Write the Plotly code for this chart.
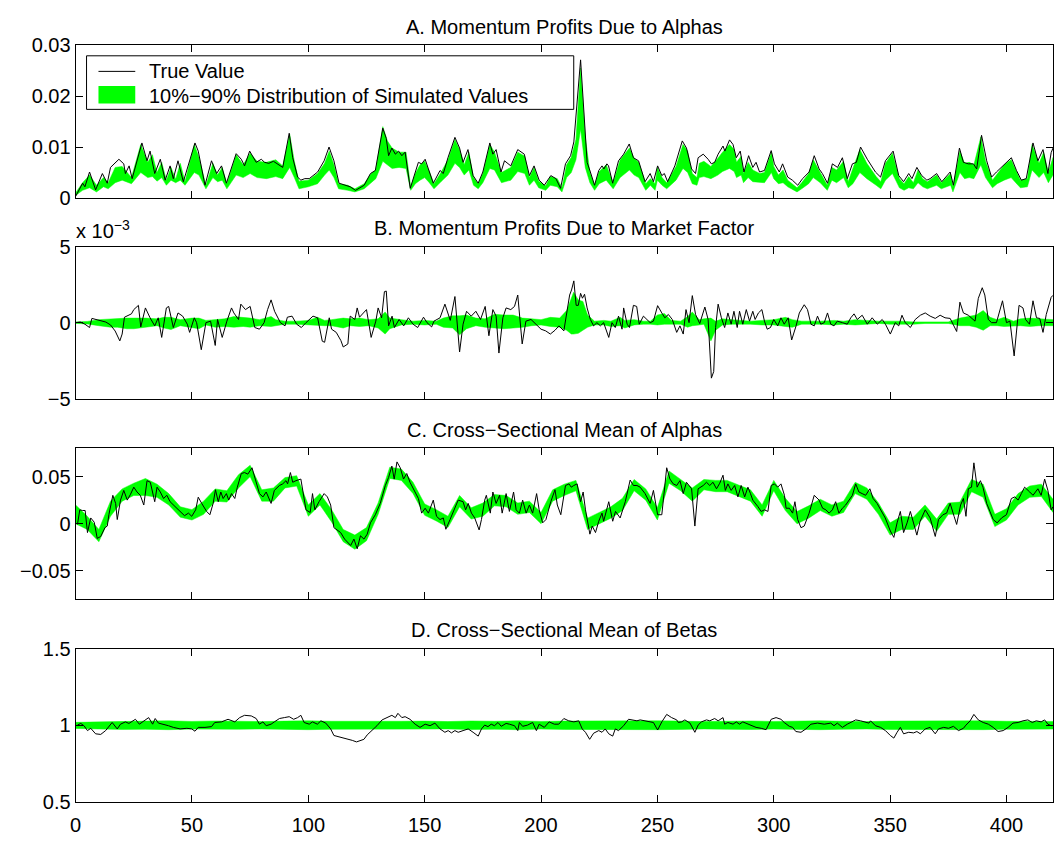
import plotly.graph_objects as go

# ------------------------------------------------------------------
# DATA
# ------------------------------------------------------------------
x_tick_values = [0, 50, 100, 150, 200, 250, 300, 350, 400]

panel_titles = ["A. Momentum Profits Due to Alphas",
                "B. Momentum Profits Due to Market Factor",
                "C. Cross\u2212Sectional Mean of Alphas",
                "D. Cross\u2212Sectional Mean of Betas"]
legend_labels = ["True Value", "10%\u221290% Distribution of Simulated Values"]

# ---- Panel A: momentum profits due to alphas ----
a_true_x = [0, 3, 4, 6, 8.6, 11.5, 13.6, 15, 18.6, 20.7, 21.4, 23, 24.3, 28.5, 30.7, 32, 34, 36.4, 38.5, 40.6,
            42, 44, 46.3, 51.3, 52.7, 55.6, 58.4, 60.6, 62.7, 64.8, 69, 71.2, 72.6, 74.8, 77.6, 79.8, 81.2, 83, 85, 87,
            89, 91.8, 93.3, 95.4, 96.8, 98.5, 100.4, 104, 106.8, 108.9, 111, 113.2, 116, 118, 120.3, 121.7, 124, 126.7, 128.8, 132,
            133.5, 134.5, 135.9, 137.4, 138.8, 140.2, 141.6, 143.8, 145.9, 147.3, 148.7, 150.2, 151.6, 153.7, 156.6, 158, 160, 163, 165, 166.5,
            168.6, 170.8, 173, 175, 178, 179.3, 180.7, 182.8, 184.3, 187, 190, 192.8, 195, 197, 199.2, 201.4, 204.2, 206.4, 208.4, 210.5,
            212.7, 214.1, 217, 218.4, 219.8, 221.2, 223, 224.8, 226.2, 227, 228.3, 229, 230.8, 233.3, 235.5, 237.9, 239.7, 241.9, 244.7, 246.9,
            248.3, 250.1, 251.9, 253, 254.4, 257.5, 260.7, 262.5, 264.7, 266.4, 267.5, 269.7, 271.8, 273.2, 274.6, 276.1, 278.2, 279, 281, 282.5,
            283.9, 285.6, 287.2, 289.2, 291, 292.4, 293.9, 296, 298.9, 300.3, 302.4, 303.8, 306, 308, 310.3, 312.4, 315.2, 317.4, 319.5, 320.9,
            323.1, 325.2, 327.4, 329.5, 331.6, 333.8, 335.5, 337.3, 340.2, 343.7, 345.9, 348, 351.3, 353.7, 355.8, 358, 359.4, 361.5, 363.6, 365.8,
            367.2, 370, 372.2, 375.8, 377.2, 379.8, 381.5, 383.6, 385.8, 387.2, 389.3, 391.5, 393.6, 395.7, 398.6, 402.1, 404.3, 406.4, 408.5, 411.4,
            413.5, 415.7, 417.8, 419.2, 420]
a_true_y = [0.0003, 0.0029, 0.0022, 0.0051, 0.0016, 0.0048, 0.0029, 0.0060, 0.0076, 0.0067, 0.0048, 0.0063, 0.0038, 0.0108, 0.0073, 0.0092, 0.0048, 0.0076, 0.0035, 0.0063,
            0.0038, 0.0073, 0.0032, 0.0108, 0.0092, 0.0025, 0.0073, 0.0048, 0.0063, 0.0029, 0.0087, 0.0076, 0.0063, 0.0092, 0.0070, 0.0076, 0.0070, 0.0068, 0.0072, 0.0066,
            0.0060, 0.0127, 0.0079, 0.0041, 0.0035, 0.0038, 0.0038, 0.0051, 0.0073, 0.0100, 0.0073, 0.0029, 0.0025, 0.0022, 0.0015, 0.0019, 0.0025, 0.0048, 0.0054, 0.0137,
            0.0117, 0.0083, 0.0098, 0.0086, 0.0092, 0.0083, 0.0090, 0.0019, 0.0051, 0.0070, 0.0067, 0.0076, 0.0057, 0.0029, 0.0054, 0.0048, 0.0079, 0.0119, 0.0098, 0.0070,
            0.0095, 0.0044, 0.0029, 0.0051, 0.0108, 0.0086, 0.0095, 0.0051, 0.0073, 0.0063, 0.0095, 0.0086, 0.0044, 0.0063, 0.0035, 0.0025, 0.0044, 0.0038, 0.0019, 0.0067,
            0.0083, 0.0110, 0.0271, 0.0162, 0.0070, 0.0051, 0.0025, 0.0054, 0.0063, 0.0057, 0.0067, 0.0063, 0.0029, 0.0073, 0.0086, 0.0106, 0.0079, 0.0073, 0.0032, 0.0048,
            0.0032, 0.0063, 0.0044, 0.0048, 0.0032, 0.0063, 0.0112, 0.0098, 0.0057, 0.0048, 0.0079, 0.0086, 0.0076, 0.0067, 0.0070, 0.0086, 0.0102, 0.0092, 0.0114, 0.0105,
            0.0079, 0.0092, 0.0051, 0.0083, 0.0060, 0.0070, 0.0051, 0.0054, 0.0093, 0.0067, 0.0051, 0.0067, 0.0041, 0.0035, 0.0025, 0.0038, 0.0051, 0.0083, 0.0057, 0.0048,
            0.0029, 0.0067, 0.0060, 0.0079, 0.0038, 0.0067, 0.0070, 0.0100, 0.0076, 0.0051, 0.0041, 0.0073, 0.0092, 0.0044, 0.0032, 0.0048, 0.0038, 0.0060, 0.0044, 0.0035,
            0.0038, 0.0048, 0.0032, 0.0051, 0.0025, 0.0098, 0.0070, 0.0067, 0.0067, 0.0057, 0.0123, 0.0073, 0.0041, 0.0051, 0.0063, 0.0079, 0.0054, 0.0035, 0.0038, 0.0108,
            0.0073, 0.0095, 0.0048, 0.0089, 0.0098]
a_band_x = [0, 3, 6, 9, 12, 14, 17, 20, 24, 28,
            31, 33, 35, 37, 39, 41, 43, 45, 47, 51,
            53, 56, 59, 61, 63, 65, 69, 72, 75, 78,
            82, 86, 89, 92, 94, 96, 100, 104, 107, 109,
            111, 113, 117, 120, 124, 127, 129, 132, 134, 136,
            139, 142, 144, 146, 148, 150, 152, 154, 157, 160,
            163, 165, 167, 169, 171, 173, 175, 178, 180, 183,
            187, 190, 193, 195, 197, 199, 202, 204, 207, 209,
            211, 213, 215, 217, 219, 221, 223, 225, 228, 231,
            234, 238, 240, 242, 245, 247, 249, 250, 252, 254,
            258, 261, 263, 265, 267, 268, 270, 273, 276, 278,
            281, 283, 284, 286, 287, 289, 291, 294, 296, 299,
            300, 302, 304, 306, 310, 312, 315, 317, 320, 323,
            325, 327, 330, 332, 334, 337, 340, 344, 346, 348,
            351, 354, 356, 358, 360, 362, 364, 366, 370, 372,
            376, 377, 380, 382, 384, 386, 389, 391, 394, 396,
            399, 402, 404, 406, 409, 411, 414, 416, 418, 420]
a_band_lo = [.0005, .0015, .0020, .0012, .0022, .0018, .0030, .0035, .0028, .0050,
             .0040, .0042, .0033, .0040, .0025, .0035, .0030, .0035, .0025, .0050,
             .0045, .0018, .0040, .0032, .0035, .0018, .0045, .0040, .0048, .0040,
             .0038, .0042, .0038, .0060, .0040, .0018, .0022, .0028, .0045, .0055,
             .0040, .0018, .0015, .0012, .0018, .0030, .0038, .0072, .0065, .0058,
             .0060, .0058, .0015, .0028, .0035, .0040, .0030, .0018, .0032, .0045,
             .0068, .0060, .0045, .0055, .0025, .0018, .0030, .0058, .0055, .0030,
             .0035, .0052, .0048, .0025, .0035, .0020, .0015, .0025, .0022, .0012,
             .0040, .0050, .0075, .0135, .0060, .0030, .0015, .0028, .0035, .0018,
             .0040, .0055, .0045, .0040, .0015, .0025, .0015, .0035, .0025, .0018,
             .0035, .0058, .0050, .0028, .0025, .0040, .0042, .0038, .0045, .0052,
             .0058, .0052, .0040, .0045, .0030, .0040, .0032, .0030, .0030, .0050,
             .0038, .0028, .0030, .0022, .0012, .0018, .0028, .0040, .0030, .0015,
             .0035, .0030, .0040, .0020, .0028, .0050, .0038, .0025, .0018, .0035,
             .0048, .0020, .0015, .0020, .0018, .0030, .0022, .0018, .0025, .0018,
             .0025, .0012, .0050, .0038, .0040, .0038, .0065, .0040, .0020, .0028,
             .0035, .0040, .0030, .0020, .0022, .0055, .0040, .0050, .0030, .0045]
a_band_hi = [.0010, .0030, .0045, .0025, .0040, .0030, .0060, .0062, .0040, .0105,
             .0070, .0085, .0050, .0070, .0035, .0060, .0037, .0068, .0032, .0105,
             .0080, .0025, .0068, .0045, .0060, .0028, .0085, .0065, .0088, .0072,
             .0070, .0075, .0063, .0125, .0072, .0033, .0035, .0048, .0068, .0092,
             .0065, .0028, .0025, .0018, .0028, .0048, .0055, .0140, .0112, .0098,
             .0090, .0090, .0022, .0048, .0065, .0072, .0052, .0028, .0050, .0075,
             .0115, .0095, .0065, .0090, .0040, .0028, .0048, .0105, .0090, .0050,
             .0060, .0090, .0082, .0040, .0060, .0033, .0024, .0042, .0038, .0020,
             .0065, .0080, .0115, .0255, .0120, .0050, .0025, .0052, .0065, .0030,
             .0075, .0098, .0078, .0070, .0028, .0038, .0028, .0060, .0040, .0030,
             .0062, .0105, .0092, .0048, .0040, .0068, .0072, .0062, .0078, .0090,
             .0105, .0095, .0070, .0082, .0048, .0070, .0055, .0048, .0050, .0090,
             .0062, .0045, .0055, .0035, .0020, .0030, .0048, .0075, .0050, .0025,
             .0060, .0055, .0072, .0032, .0058, .0095, .0068, .0042, .0032, .0068,
             .0088, .0038, .0028, .0042, .0030, .0055, .0038, .0032, .0045, .0030,
             .0048, .0022, .0092, .0068, .0070, .0065, .0120, .0072, .0035, .0048,
             .0065, .0075, .0055, .0035, .0038, .0105, .0068, .0090, .0050, .0080]

# ---- Panel B: momentum profits due to market factor (units of 1e-3) ----
b_true_x = [0, 2, 4, 6, 7, 10, 13, 15, 17, 19,
            20, 21, 24, 25, 27, 28, 30, 32, 34, 35.5,
            37, 39, 40, 42, 44, 46, 48, 49, 51, 52,
            54, 56, 58, 60, 61, 63, 65, 67, 68, 70,
            71, 73, 75, 77, 79, 81, 82.5, 84, 85.5, 88,
            90, 91, 93, 95, 97, 99, 102, 104, 106, 107,
            109, 110, 112, 114, 115, 117, 118, 120, 121, 122,
            125, 127, 129, 130, 131.5, 132.7, 133.5, 134.5, 136, 137,
            139, 141, 143, 145, 147, 149.5, 151, 153, 154, 156.6,
            158.7, 161, 163, 165, 166.5, 168, 170, 172, 174, 176,
            177.6, 179.3, 180.7, 181.9, 183.6, 185, 187, 188.6, 190, 191.9,
            193.5, 195.7, 198, 200, 202, 204, 206, 207.7, 209.8, 211.3,
            212.3, 213.1, 214.1, 215.1, 216, 217, 217.8, 218.7, 219.8, 221.2,
            222.6, 224, 225.5, 226.9, 229.1, 230.5, 231.9, 233.3, 234.8, 235.5,
            237, 238, 239.7, 241.1, 242.2, 244, 245.4, 246.9, 248.3, 250.1,
            251.9, 253.2, 254.7, 256.4, 258.3, 259.7, 261.1, 262.3, 263.6, 265,
            266.4, 268.2, 270.4, 271.8, 273.2, 274.2, 275, 276.1, 277.5, 278.9,
            280.3, 281.7, 282.9, 284.3, 285.3, 286.7, 288.2, 289.6, 291, 292,
            293.4, 294.9, 296, 297.2, 298.6, 300, 301.7, 303.1, 304.5, 306.2,
            307.7, 309.6, 311, 313.1, 314.5, 316, 317.4, 318.8, 320.2, 321.7,
            323.1, 324.5, 325.9, 327.3, 329.5, 331.6, 333.1, 334.5, 335.9, 338,
            340.2, 342.3, 344.5, 346.6, 348, 350.1, 352.2, 353.7, 355.1, 356.5,
            358.7, 360.8, 363, 365.1, 367.2, 369.4, 371.5, 373.6, 375.8, 377.2,
            378.6, 380, 381.5, 383.6, 385, 386.5, 387.9, 389.6, 390.7, 392.2,
            393.6, 395.7, 398.3, 400, 401.5, 403.3, 405.4, 407.1, 408.2, 409.9,
            411.4, 412.9, 414.3, 415.7, 417.1, 419.2, 420]
b_true_y_e3 = [0, 0.04, -0.1, -0.32, 0.28, 0.15, 0.04, -0.15, -0.55, -1.2,
               -0.75, 0.36, 0.58, 0.86, 1.14, -0.28, 0.97, 0.32, -0.21, 0.32,
               -0.97, 0.97, 1.07, -0.32, 0.64, 0.43, -0.1, -0.64, 0.32, 0,
               -1.78, 0, 0.1, -1.5, 0.21, -0.97, 0.1, 0.97, 0.64, 0.21,
               1.22, 0.86, 1.07, -0.32, -0.43, 0, 0.86, 1.5, 0.75, 0,
               -0.21, 0.36, 0.43, -0.1, -0.32, 0, 0.43, 0.32, -1.22, -1.29,
               0.32, -0.43, -0.64, -1.18, -1.6, -1.4, 0.43, 0.21, 0.97, 0.36,
               0.86, -0.97, 0.1, 0.97, 0.32, 2.04, 2.08, -0.21, 0.43, -0.32,
               0.21, -0.21, 0.32, -0.1, -0.32, 0.36, 0, -0.28, 0.1, 0.32,
               1.22, 0.15, 1.72, -1.93, -0.1, 0.75, 0.43, 0.75, 0.21, 1.07,
               -0.86, 0.86, 0.43, -2.0, 0.32, 0.97, 0.86, 1.07, 1.82, -1.4,
               0.1, 0.21, -0.1, -0.43, -0.54, -0.75, -0.5, -0.21, -0.54, 1.07,
               1.82, 2.15, 2.75, 1.14, 1.14, 1.93, 1.61, 1.87, 0.97, 0.21,
               -0.21, 0, -0.21, 0, -0.97, 0, -0.32, 0.43, -0.43, 0.97,
               -0.1, -0.32, 1.14, 1.07, -0.1, 0.43, 0.21, 0, 0.1, 1.12,
               0.64, 0.32, 0.54, 0.21, -0.64, -0.21, -0.75, 0.86, 0, 1.78,
               0.54, -0.06, 1.03, 0.21, -3.65, -3.22, -0.32, 1.22, 0.32, -0.32,
               0.64, -0.1, 0.75, -0.32, 0.75, -0.1, 0.86, 0.1, 0.75, 0.21,
               0.64, 0.86, 0.1, -0.43, -0.32, 0.21, -0.21, 0.32, -0.1, 0.32,
               -1.14, -0.21, 0.64, 1.18, 0.86, -0.1, -0.21, 0.43, -0.1, 0,
               0.64, -0.1, -0.21, 0.1, 0, -0.1, 0.32, 0.58, 0.21, 0.49,
               -0.1, 0.32, -0.1, 0.21, -0.1, -0.75, 0, -0.21, 0.49, 0,
               -0.32, 0.21, 0.49, 0.64, 0.43, 0.28, 0.49, 0.32, 0.28, -0.1,
               -0.58, 1.35, 0.64, 0.49, 0.32, 0.1, 1.6, 2.3, 1.82, 0.21,
               0, 0, 1.44, 0, 0.1, -2.19, 1.14, 0.97, 0.21, -0.1,
               1.44, 0.32, 0.28, -0.64, 0.54, 1.67, 1.8]
b_band_x = [0, 5, 10, 15, 18, 22, 25, 30, 35, 38,
            41, 45, 50, 53, 56, 60, 64, 68, 72, 75,
            79, 84, 86, 90, 95, 100, 104, 107, 110, 115,
            118, 122, 126, 130, 133, 135, 140, 145, 150, 155,
            158, 162, 165, 168, 172, 176, 180, 184, 188, 192,
            196, 200, 204, 208, 211, 213, 214, 216, 218, 220,
            223, 227, 230, 234, 236, 240, 244, 247, 250, 253,
            256, 260, 263, 265, 268, 270, 273, 275, 278, 282,
            286, 290, 295, 300, 305, 308, 312, 316, 320, 326,
            330, 335, 340, 345, 350, 355, 360, 365, 370, 375,
            380, 384, 387, 390, 393, 396, 399, 403, 406, 410,
            414, 418, 420]
b_band_lo_e3 = [-0.05, -0.08, -0.2, -0.3, -0.3, -0.4, -0.4, -0.3, -0.2, -0.35,
                -0.45, -0.2, -0.35, -0.4, -0.15, -0.3, -0.25, -0.3, -0.25, -0.3,
                -0.2, -0.25, -0.2, -0.1, -0.1, -0.15, -0.2, -0.2, -0.2, -0.35,
                -0.2, -0.25, -0.2, -0.35, -0.75, -0.4, -0.15, -0.1, -0.15, -0.1,
                -0.3, -0.35, -0.8, -0.4, -0.2, -0.3, -0.35, -0.4, -0.35, -0.3,
                -0.2, -0.15, -0.25, -0.3, -0.5, -0.75, -0.75, -0.7, -0.5, -0.3,
                -0.15, -0.15, -0.25, -0.2, -0.35, -0.15, -0.1, -0.1, -0.15, -0.1,
                -0.1, -0.1, -0.3, -0.2, -0.15, -0.1, -1.2, -0.5, -0.15, -0.1,
                -0.1, -0.1, -0.15, -0.15, -0.25, -0.3, -0.1, -0.1, -0.1, -0.15,
                -0.1, -0.15, -0.1, -0.05, -0.1, -0.1, -0.1, -0.05, -0.05, -0.05,
                -0.2, -0.2, -0.3, -0.5, -0.2, -0.2, -0.25, -0.2, -0.2, -0.25,
                -0.2, -0.2, -0.2]
b_band_hi_e3 = [0.05, 0.08, 0.2, 0.25, 0.25, 0.3, 0.3, 0.3, 0.25, 0.35,
                0.35, 0.2, 0.3, 0.3, 0.15, 0.2, 0.25, 0.4, 0.35, 0.3,
                0.2, 0.4, 0.2, 0.1, 0.1, 0.15, 0.35, 0.15, 0.2, 0.3,
                0.25, 0.3, 0.2, 0.25, 0.7, 0.3, 0.2, 0.1, 0.15, 0.1,
                0.3, 0.45, 0.45, 0.5, 0.3, 0.25, 0.55, 0.5, 0.5, 0.3,
                0.25, 0.2, 0.35, 0.3, 0.8, 1.6, 2.0, 1.5, 1.4, 0.5,
                0.1, 0.15, 0.1, 0.35, 0.15, 0.2, 0.1, 0.1, 0.5, 0.6,
                0.15, 0.1, 0.4, 0.7, 0.2, 0.25, 0.3, 0.1, 0.25, 0.2,
                0.15, 0.1, 0.15, 0.2, 0.35, 0.2, 0.1, 0.1, 0.1, 0.15,
                0.1, 0.2, 0.15, 0.1, 0.1, 0.1, 0.05, 0.05, 0.05, 0.05,
                0.3, 0.4, 0.5, 0.8, 0.35, 0.2, 0.35, 0.1, 0.25, 0.3,
                0.25, 0.2, 0.2]

# ---- Panel C: cross-sectional mean of alphas ----
c_true_x = [0.8, 1.8, 3, 4.1, 5.1, 6.5, 8, 9.3, 10.8, 12.6,
            13.6, 14.3, 16, 17.2, 17.9, 19.3, 20.7, 22.2, 23.6, 25,
            26.4, 27.8, 29.3, 30.7, 32.1, 34, 35, 36.4, 37.8, 39.2,
            40.6, 42.8, 44.9, 46.8, 48.5, 49.9, 51.6, 52.7, 54.2, 56.3,
            57.7, 59.1, 60.1, 61.3, 62.4, 63.4, 64.8, 65.8, 67, 68.4,
            69.5, 71.2, 72.6, 74, 75.8, 77.6, 79, 80.5, 81.9, 84,
            85.4, 87.6, 89, 90.4, 91.1, 92.3, 93.3, 94.7, 96.8, 99,
            100.8, 101.8, 102.8, 104.6, 106.8, 108.2, 109.6, 111, 112.5, 113.9,
            115.6, 116.7, 118.2, 119.6, 121, 122.4, 123.9, 125.3, 126.7, 128.8,
            130.9, 133.1, 134.5, 135.9, 136.9, 138.1, 139.5, 140.9, 142.3, 143.7,
            145.2, 147.3, 148.7, 150.2, 151.6, 153.7, 155.1, 156.6, 158, 159.1,
            160.9, 162.6, 164.4, 166.5, 167.6, 168.7, 170.1, 171.5, 173.4, 174.4,
            175.8, 176.5, 178.2, 179.3, 180.7, 182.2, 183.3, 185, 186.4, 188.2,
            189.3, 190.7, 192.1, 193.6, 195, 196.4, 198.1, 199.2, 200.7, 202.1,
            204.2, 206, 207, 208.5, 210.5, 212, 213, 214, 215.5, 217,
            218.1, 219.1, 221, 222, 223.4, 224.8, 226.2, 226.9, 229.1, 230.8,
            232, 234, 236.2, 238.3, 239.7, 241.2, 242.6, 244.7, 246.9, 248.3,
            250.1, 251.9, 254, 255.4, 256.8, 258.3, 259.7, 261.1, 262.5, 264.7,
            266.1, 267.5, 269.7, 271.1, 272.5, 273.9, 275.4, 276.8, 278.2, 279.2,
            280.3, 281.7, 283.2, 284.6, 286, 287.5, 288.9, 290, 291, 293.2,
            294.6, 296, 297.5, 298.9, 300.3, 301.7, 303.1, 304.6, 305.3, 306.7,
            308.1, 309.1, 310.3, 311.7, 313.1, 315.2, 317.4, 319.5, 321, 322.4,
            323.8, 325.2, 326.6, 328, 329.5, 330.9, 332.3, 333.8, 335.2, 336.6,
            338, 339.5, 341.3, 342.7, 344.4, 345.8, 347.9, 350.1, 351.6, 353,
            354.4, 355.8, 357.3, 358.7, 360.1, 361.5, 362.9, 365.1, 367.2, 369.4,
            370.8, 372.7, 374.3, 375.8, 377.5, 378.6, 380.3, 381.5, 382.6, 383.6,
            385, 386, 387.4, 388.8, 389.9, 391.5, 392.9, 394.3, 396, 397.9,
            400, 402.1, 403.6, 405, 406.4, 407.8, 410, 411.4, 413.5, 414.9,
            416.4, 417.8, 419.2, 420]
c_true_y = [-0.0007, 0.0148, 0.0141, 0.0141, -0.0093, 0.0062, 0.0017, -0.0155, -0.0134, -0.0041,
            -0.0024, 0.0096, 0.0302, 0.0216, 0.0045, 0.0251, 0.0354, 0.0251, 0.0313, 0.0388,
            0.0337, 0.0302, 0.0199, 0.0457, 0.0440, 0.0234, 0.0388, 0.0337, 0.0268, 0.0302,
            0.0234, 0.0182, 0.0131, 0.0086, 0.0113, 0.0079, 0.0148, 0.0282, 0.0216, 0.0131,
            0.0096, 0.0216, 0.0361, 0.0234, 0.0337, 0.0268, 0.0320, 0.0251, 0.0320, 0.0268,
            0.0388, 0.0533, 0.0543, 0.0526, 0.0594, 0.0443, 0.0320, 0.0285, 0.0337, 0.0216,
            0.0354, 0.0406, 0.0423, 0.0457, 0.0423, 0.0543, 0.0440, 0.0457, 0.0474, 0.0148,
            0.0120, 0.0320, 0.0148, 0.0234, 0.0320, 0.0285, 0.0199, -0.0041, -0.0065, -0.0093,
            -0.0162, -0.0196, -0.0230, -0.0162, -0.0265, -0.0127, -0.0162, -0.0110, 0.0010, 0.0096,
            0.0216, 0.0406, 0.0491, 0.0612, 0.0474, 0.0656, 0.0594, 0.0474, 0.0533, 0.0440,
            0.0371, 0.0268, 0.0113, 0.0165, 0.0113, 0.0251, 0.0079, 0.0045, 0.0062, -0.0058,
            0.0045, 0.0148, 0.0251, 0.0234, 0.0148, 0.0216, 0.0113, 0.0062, -0.0065, 0.0045,
            0.0251, 0.0302, 0.0113, 0.0337, 0.0216, 0.0302, 0.0113, 0.0320, 0.0131, 0.0337,
            0.0148, 0.0113, 0.0251, 0.0113, 0.0199, 0.0113, 0.0320, 0.0148, 0.0010, 0.0045,
            0.0234, 0.0361, 0.0199, 0.0096, 0.0405, 0.0423, 0.0388, 0.0405, 0.0423, 0.0234,
            0.0337, 0.0148, -0.0110, -0.0024, -0.0093, 0.0027, 0.0113, 0.0027, 0.0234, 0.0027,
            0.0131, 0.0062, 0.0234, 0.0464, 0.0406, 0.0406, 0.0388, 0.0320, 0.0216, 0.0354,
            0.0096, 0.0096, 0.0594, 0.0474, 0.0423, 0.0406, 0.0457, 0.0320, 0.0440, 0.0371,
            -0.0024, 0.0371, 0.0406, 0.0440, 0.0406, 0.0440, 0.0371, 0.0430, 0.0515, 0.0354,
            0.0423, 0.0354, 0.0406, 0.0285, 0.0406, 0.0285, 0.0388, 0.0320, 0.0251, 0.0182,
            0.0131, 0.0148, 0.0131, 0.0406, 0.0423, 0.0388, 0.0423, 0.0302, 0.0165, 0.0165,
            0.0113, 0.0234, 0.0045, -0.0041, -0.0024, 0.0113, 0.0302, 0.0251, 0.0165, 0.0148,
            0.0113, 0.0148, 0.0234, 0.0113, 0.0165, 0.0199, 0.0251, 0.0302, 0.0423, 0.0337,
            0.0320, 0.0302, 0.0371, 0.0268, 0.0216, 0.0148, 0.0062, -0.0076, -0.0144, 0.0010,
            0.0131, -0.0093, 0.0010, 0.0131, -0.0007, -0.0120, 0.0027, 0.0148, 0.0062, -0.0134,
            0.0045, 0.0096, 0.0113, 0.0216, 0.0079, -0.0007, 0.0199, 0.0268, 0.0079, 0.0371,
            0.0388, 0.0646, 0.0388, 0.0457, 0.0388, 0.0216, 0.0131, 0.0045, 0.0010, 0.0062,
            0.0096, 0.0268, 0.0285, 0.0251, 0.0320, 0.0388, 0.0337, 0.0302, 0.0371, 0.0302,
            0.0474, 0.0354, 0.0148, 0.0180]
c_band_x = [0, 5, 10, 15, 20, 25, 30, 35, 40, 45,
            50, 55, 60, 65, 70, 75, 80, 85, 90, 95,
            100, 105, 110, 115, 120, 125, 130, 135, 140, 145,
            150, 155, 160, 165, 170, 175, 180, 185, 190, 195,
            200, 205, 210, 215, 220, 225, 230, 235, 240, 245,
            250, 255, 260, 265, 270, 275, 280, 285, 290, 295,
            300, 305, 310, 315, 320, 325, 330, 335, 340, 345,
            350, 355, 360, 365, 370, 375, 380, 385, 390, 395,
            400, 405, 410, 415, 420]
c_band_lo = [0.000, -0.006, -0.019, 0.008, 0.024, 0.030, 0.030, 0.028, 0.020, 0.007,
             0.004, 0.010, 0.024, 0.023, 0.038, 0.050, 0.024, 0.024, 0.038, 0.040,
             0.008, 0.020, 0.002, -0.019, -0.027, -0.018, 0.010, 0.048, 0.046, 0.032,
             0.009, 0.003, -0.004, 0.018, 0.005, 0.008, 0.019, 0.018, 0.010, 0.012,
             0.000, 0.024, 0.030, 0.035, -0.006, 0.000, 0.006, 0.014, 0.035, 0.025,
             0.004, 0.043, 0.035, 0.024, 0.036, 0.034, 0.034, 0.029, 0.024, 0.008,
             0.035, 0.014, 0.000, 0.006, 0.014, 0.008, 0.012, 0.032, 0.026, 0.010,
             -0.012, -0.006, -0.006, 0.008, -0.008, 0.010, 0.010, 0.034, 0.028, -0.003,
             0.004, 0.020, 0.028, 0.029, 0.012]
c_band_hi = [0.020, 0.008, -0.006, 0.024, 0.037, 0.043, 0.048, 0.042, 0.032, 0.018,
             0.015, 0.024, 0.037, 0.035, 0.052, 0.062, 0.036, 0.038, 0.049, 0.051,
             0.020, 0.032, 0.015, -0.006, -0.012, -0.004, 0.022, 0.060, 0.058, 0.044,
             0.021, 0.015, 0.008, 0.030, 0.017, 0.022, 0.031, 0.030, 0.022, 0.024,
             0.012, 0.036, 0.042, 0.046, 0.006, 0.012, 0.018, 0.027, 0.047, 0.037,
             0.017, 0.056, 0.047, 0.038, 0.047, 0.046, 0.046, 0.041, 0.036, 0.020,
             0.046, 0.027, 0.013, 0.019, 0.026, 0.020, 0.024, 0.044, 0.038, 0.022,
             0.001, 0.008, 0.007, 0.020, 0.005, 0.022, 0.023, 0.047, 0.042, 0.010,
             0.016, 0.032, 0.040, 0.042, 0.026]

# ---- Panel D: cross-sectional mean of betas ----
d_true_x = [0.8, 2.2, 3.6, 5.1, 6.5, 8.6, 10.8, 12.9, 15.7, 17.9,
            19.3, 21.4, 22.9, 25.7, 27.4, 29.3, 31.4, 33.1, 34.2, 35.6,
            37.8, 39.9, 42, 44.9, 47.8, 49.9, 51.3, 52.7, 55.6, 58.4,
            59.8, 62.7, 65.5, 68.4, 70.5, 72.6, 75.5, 77.6, 79, 80.5,
            81.9, 84, 85.4, 87.6, 89.7, 91.8, 93.7, 95.4, 96.8, 98.2,
            100.4, 101.8, 103.9, 105.4, 107.5, 109.6, 111, 113.9, 116.7, 118.9,
            120.7, 122.4, 123.9, 125.3, 127.4, 129.5, 131.7, 133.8, 135.9, 137.4,
            138.5, 140.2, 141.6, 143.7, 145.9, 148, 150.2, 152.3, 154.4, 156.6,
            158.7, 160.1, 161.5, 163, 164.4, 166.5, 168.7, 170.8, 173, 174.4,
            175.8, 177.2, 178.6, 180, 181.5, 182.9, 185, 186.4, 188.6, 190,
            190.7, 192.1, 194.2, 196.4, 198, 199.2, 201.4, 203.5, 205.7, 207.6,
            209.8, 211.9, 214.1, 216.2, 217.7, 219.1, 220.9, 222.6, 224.8, 226.2,
            227.6, 229.1, 230.8, 231.9, 233.3, 235.5, 237.6, 239.1, 241.2, 242.6,
            244.7, 246.4, 248.3, 250.1, 251.9, 254, 256.1, 258.3, 259, 260.4,
            261.8, 264, 266.1, 267.5, 268.9, 271.1, 272.5, 274.6, 276.1, 278.2,
            278.9, 280.3, 282.5, 283.9, 285.3, 286.7, 288.9, 290.3, 292.4, 294.6,
            296.7, 298.9, 301, 303.1, 304.5, 306.7, 308.1, 309.5, 311.7, 313.8,
            316, 318.8, 321.7, 324.5, 325.9, 327.3, 329.5, 331.6, 333.8, 335.2,
            337.3, 339.5, 340.9, 341.6, 343.7, 345.9, 348, 350.1, 351.6, 353,
            354.4, 355.8, 358, 360.1, 361.5, 363, 365.1, 367.2, 369.4, 370.8,
            373, 375.1, 377.2, 379.4, 381.5, 382.6, 384.4, 386, 387.9, 390,
            392.2, 394.3, 396.4, 398.6, 400.7, 402.8, 405, 407.1, 409.2, 411.1,
            412.8, 414.9, 416.4, 417.8, 419.2, 420]
d_true_y = [1.002, 1.013, 0.998, 0.966, 0.981, 0.945, 0.941, 0.966, 1.019, 0.977,
            1.008, 1.023, 1.013, 1.040, 1.008, 1.030, 1.051, 1.008, 1.045, 1.015,
            1.008, 0.998, 0.987, 0.977, 0.981, 0.977, 0.962, 0.987, 0.987, 0.992,
            1.019, 1.023, 1.040, 1.023, 1.051, 1.066, 1.062, 1.045, 1.008, 1.023,
            0.998, 1.008, 1.023, 1.045, 1.051, 1.057, 1.040, 1.051, 1.066, 1.019,
            1.008, 1.023, 1.008, 1.030, 1.015, 0.977, 0.934, 0.924, 0.913, 0.902,
            0.892, 0.902, 0.909, 0.938, 0.966, 0.998, 1.036, 1.051, 1.066, 1.051,
            1.079, 1.051, 1.057, 1.040, 1.008, 0.987, 1.008, 0.998, 1.015, 0.977,
            0.955, 0.966, 0.951, 0.966, 0.955, 0.966, 0.977, 0.955, 0.930, 0.977,
            1.002, 0.992, 1.008, 0.998, 1.019, 0.994, 1.013, 1.008, 0.998, 0.966,
            1.019, 0.994, 1.002, 1.019, 0.966, 1.008, 0.987, 1.023, 1.008, 1.008,
            1.045, 1.030, 1.023, 1.030, 0.977, 0.955, 0.909, 0.949, 0.966, 0.955,
            0.977, 0.945, 0.930, 0.977, 0.966, 0.998, 1.040, 1.036, 1.030, 1.036,
            1.030, 1.023, 1.019, 0.970, 1.023, 1.072, 1.051, 1.036, 1.019, 1.023,
            1.036, 1.015, 0.955, 1.002, 1.023, 1.036, 1.030, 1.045, 1.030, 1.051,
            1.008, 1.019, 1.008, 1.023, 1.008, 1.023, 1.008, 1.002, 0.987, 0.981,
            0.972, 1.040, 1.051, 1.040, 1.019, 0.994, 0.987, 0.960, 0.955, 0.977,
            1.008, 1.015, 1.008, 1.015, 0.998, 1.015, 0.987, 1.008, 1.023, 1.036,
            1.030, 1.023, 1.015, 1.030, 0.998, 0.987, 0.966, 0.934, 0.917, 0.955,
            0.987, 0.945, 0.955, 0.951, 0.960, 0.945, 0.977, 0.987, 0.945, 0.977,
            0.987, 0.981, 0.994, 0.966, 0.981, 1.002, 1.030, 1.072, 1.036, 1.019,
            1.008, 0.987, 0.960, 0.966, 0.987, 1.015, 1.019, 1.030, 1.036, 1.019,
            1.030, 1.023, 1.036, 1.008, 0.998, 1.000]
d_band_x = [0, 10, 20, 30, 40, 50, 60, 70, 80, 90,
            100, 110, 120, 130, 140, 150, 160, 170, 180, 190,
            200, 210, 220, 230, 240, 250, 260, 270, 280, 290,
            300, 310, 320, 330, 340, 350, 360, 370, 380, 390,
            400, 410, 420]
d_band_lo = [0.980, 0.976, 0.974, 0.975, 0.972, 0.976, 0.973, 0.975, 0.977, 0.974,
             0.972, 0.975, 0.976, 0.973, 0.975, 0.974, 0.977, 0.973, 0.975, 0.972,
             0.976, 0.974, 0.973, 0.976, 0.975, 0.972, 0.974, 0.977, 0.975, 0.973,
             0.976, 0.974, 0.972, 0.975, 0.977, 0.974, 0.973, 0.976, 0.974, 0.972,
             0.975, 0.974, 0.976]
d_band_hi = [1.020, 1.024, 1.027, 1.028, 1.030, 1.026, 1.029, 1.027, 1.025, 1.028,
             1.030, 1.027, 1.026, 1.029, 1.027, 1.028, 1.025, 1.029, 1.027, 1.030,
             1.026, 1.028, 1.029, 1.026, 1.027, 1.030, 1.028, 1.025, 1.027, 1.029,
             1.026, 1.028, 1.030, 1.027, 1.025, 1.028, 1.029, 1.026, 1.028, 1.030,
             1.027, 1.028, 1.026]

# y-axis ticks per panel
a_yticks = [0, 0.01, 0.02, 0.03]
a_yticklabels = ["0", "0.01", "0.02", "0.03"]
b_yticks = [-5, 0, 5]
b_yticklabels = ["\u22125", "0", "5"]
c_yticks = [-0.05, 0, 0.05]
c_yticklabels = ["\u22120.05", "0", "0.05"]
d_yticks = [0.5, 1, 1.5]
d_yticklabels = ["0.5", "1", "1.5"]

for xs, ys in [(a_true_x, a_true_y), (b_true_x, b_true_y_e3), (c_true_x, c_true_y), (d_true_x, d_true_y),
               (a_band_x, a_band_lo), (a_band_x, a_band_hi), (b_band_x, b_band_lo_e3), (b_band_x, b_band_hi_e3),
               (c_band_x, c_band_lo), (c_band_x, c_band_hi), (d_band_x, d_band_lo), (d_band_x, d_band_hi)]:
    assert len(xs) == len(ys), (len(xs), len(ys))

# ------------------------------------------------------------------
# LAYOUT / STYLE
# ------------------------------------------------------------------
W, H = 1054, 845
FONT = "Liberation Sans, Arial, Helvetica, sans-serif"
GREEN = "#00ff00"
FS = 20
X_LEFT, X_RIGHT = 70, 1053
panel_px = [(35, 192), (242, 398), (449, 604), (655, 812)]   # (top, bottom) pixel rows
y_ranges = [[0, 0.03], [-5, 5], [-0.08, 0.08], [0.5, 1.5]]


def px(x):
    return x / W


def py(y):
    return 1 - y / H


panels = [
    (a_true_x, a_true_y, a_band_x, a_band_lo, a_band_hi, a_yticks, a_yticklabels),
    (b_true_x, b_true_y_e3, b_band_x, b_band_lo_e3, b_band_hi_e3, b_yticks, b_yticklabels),
    (c_true_x, c_true_y, c_band_x, c_band_lo, c_band_hi, c_yticks, c_yticklabels),
    (d_true_x, d_true_y, d_band_x, d_band_lo, d_band_hi, d_yticks, d_yticklabels),
]

fig = go.Figure()
layout = dict(
    width=W, height=H, autosize=False,
    margin=dict(l=0, r=0, t=0, b=0, pad=0),
    paper_bgcolor="white", plot_bgcolor="white",
    showlegend=False,
    font=dict(family=FONT, size=FS, color="black"),
)
annotations = []
shapes = []

for i, (tx, ty, bx, blo, bhi, yt, ytl) in enumerate(panels):
    n = i + 1
    xa = "x" if n == 1 else f"x{n}"
    ya = "y" if n == 1 else f"y{n}"
    fig.add_trace(go.Scatter(x=bx, y=blo, mode="lines", xaxis=xa, yaxis=ya,
                             line=dict(color=GREEN, width=0.5), hoverinfo="skip"))
    fig.add_trace(go.Scatter(x=bx, y=bhi, mode="lines", xaxis=xa, yaxis=ya, fill="tonexty",
                             fillcolor=GREEN, line=dict(color=GREEN, width=0.5), hoverinfo="skip"))
    fig.add_trace(go.Scatter(x=tx, y=ty, mode="lines", xaxis=xa, yaxis=ya,
                             line=dict(color="black", width=1)))
    top, bot = panel_px[i]
    axis_common = dict(showline=True, linecolor="black", linewidth=1, mirror="ticks",
                       ticks="inside", ticklen=7, tickwidth=1, tickcolor="black",
                       showgrid=False, zeroline=False,
                       tickfont=dict(family=FONT, size=FS, color="black"))
    layout["xaxis" if n == 1 else f"xaxis{n}"] = dict(
        axis_common, domain=[px(X_LEFT), px(X_RIGHT)], range=[0, 420],
        tickvals=x_tick_values, showticklabels=(n == 4), ticklabelstandoff=5, anchor=ya)
    layout["yaxis" if n == 1 else f"yaxis{n}"] = dict(
        axis_common, domain=[py(bot), py(top)], range=y_ranges[i],
        tickvals=yt, ticktext=ytl, anchor=xa)
    annotations.append(dict(text=panel_titles[i], xref="paper", yref="paper",
                            x=px((X_LEFT + X_RIGHT) / 2), y=py(top - 19),
                            xanchor="center", yanchor="middle", showarrow=False,
                            font=dict(family=FONT, size=FS, color="black")))

# exponent label of panel B
annotations.append(dict(text="x 10<sup>\u22123</sup>", xref="paper", yref="paper",
                        x=px(X_LEFT - 2), y=py(224), xanchor="left", yanchor="middle",
                        showarrow=False, font=dict(family=FONT, size=FS, color="black")))

# legend (drawn by hand, MATLAB style)
shapes.append(dict(type="rect", xref="paper", yref="paper", x0=px(81), x1=px(571), y0=py(101), y1=py(46),
                   line=dict(color="black", width=1), fillcolor="white", layer="above"))
shapes.append(dict(type="line", xref="paper", yref="paper", x0=px(93), x1=px(130), y0=py(62), y1=py(62),
                   line=dict(color="black", width=1), layer="above"))
shapes.append(dict(type="rect", xref="paper", yref="paper", x0=px(93), x1=px(130), y0=py(95), y1=py(77),
                   line=dict(color=GREEN, width=0), fillcolor=GREEN, layer="above"))
annotations.append(dict(text=legend_labels[0], xref="paper", yref="paper", x=px(142), y=py(62),
                        xanchor="left", yanchor="middle", showarrow=False,
                        font=dict(family=FONT, size=FS, color="black")))
annotations.append(dict(text=legend_labels[1], xref="paper", yref="paper", x=px(142), y=py(87),
                        xanchor="left", yanchor="middle", showarrow=False,
                        font=dict(family=FONT, size=FS, color="black")))

layout["annotations"] = annotations
layout["shapes"] = shapes
fig.update_layout(**layout)

fig.write_html("out.html", config={"displayModeBar": False},
               post_script="document.body.style.margin='0px';")
